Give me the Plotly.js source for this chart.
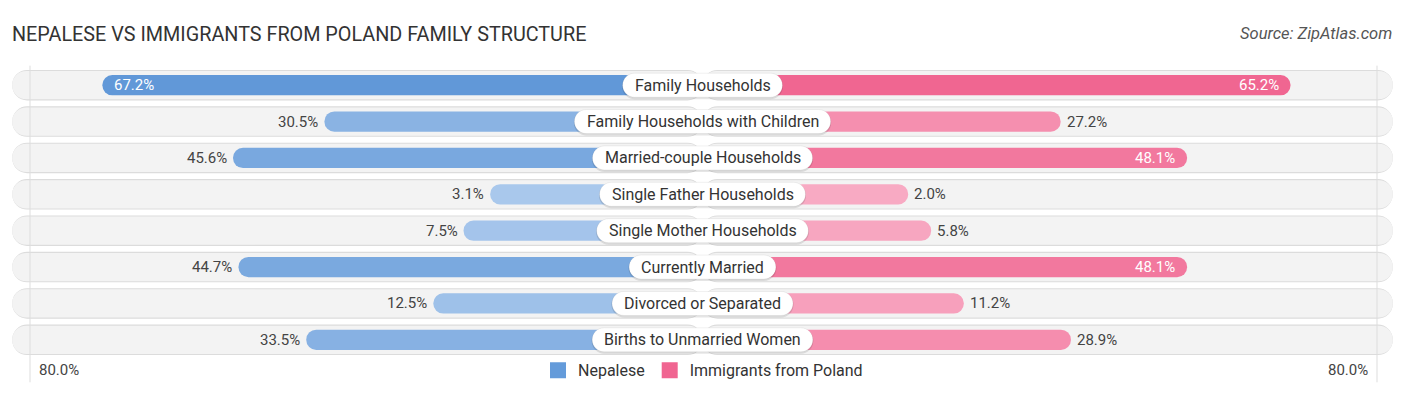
<!DOCTYPE html>
<html>
<head>
<meta charset="utf-8">
<script src="https://cdn.plot.ly/plotly-3.0.1.min.js"></script>
<style>
  html, body { margin: 0; padding: 0; background: #ffffff; }
  #chart { width: 1406px; height: 395px; }
</style>
</head>
<body>
<div id="chart"></div>
<script>
// ---- data ----
const categories = [
  'Family Households',
  'Family Households with Children',
  'Married-couple Households',
  'Single Father Households',
  'Single Mother Households',
  'Currently Married',
  'Divorced or Separated',
  'Births to Unmarried Women'
];
const nepalese = [67.2, 30.5, 45.6, 3.1, 7.5, 44.7, 12.5, 33.5];
const poland   = [65.2, 27.2, 48.1, 2.0, 5.8, 48.1, 11.2, 28.9];
const seriesNames = ['Nepalese', 'Immigrants from Poland'];
const axisLabels = ['80.0%', '80.0%'];
const chartTitle = 'NEPALESE VS IMMIGRANTS FROM POLAND FAMILY STRUCTURE';
const sourceText = 'Source: ZipAtlas.com';

// ---- style / geometry ----
const W = 1406, H = 395;
const PX = 6.05;              // pixels per percentage point
const CENTER = 702.5;         // pixel of the centre line
const GAP = 32;               // half gap (in % units) hidden behind the labels
const BG = 114.1;             // half length of background pills (in % units)
const FONT = 'Roboto, "Open Sans", sans-serif';
const blueDark = [97, 152, 216], blueLight = [172, 202, 237];
const pinkDark = [240, 100, 143], pinkLight = [248, 172, 197];

function mix(a, b, t) {
  const c = a.map((v, i) => Math.round(b[i] + (v - b[i]) * t));
  return 'rgb(' + c.join(',') + ')';
}
const maxV = Math.max(...nepalese, ...poland);
const blueColors = nepalese.map(v => mix(blueDark, blueLight, v / maxV));
const pinkColors = poland.map(v => mix(pinkDark, pinkLight, v / maxV));

const idx = categories.map((_, i) => i);

const traces = [];
function bgBar(sign, width, color, radius) {
  return {
    type: 'bar', orientation: 'h', y: idx, x: idx.map(() => sign * BG), base: 0,
    width: width, marker: { color: color, cornerradius: radius, line: { width: 0 } },
    showlegend: false, hoverinfo: 'skip'
  };
}
traces.push(bgBar(-1, 0.84, '#dcdcdc', 16));
traces.push(bgBar(1, 0.84, '#dcdcdc', 16));
traces.push(bgBar(-1, 0.78, '#f3f3f3', 15));
traces.push(bgBar(1, 0.78, '#f3f3f3', 15));

traces.push({
  type: 'bar', orientation: 'h', y: idx, x: nepalese.map(v => -(GAP + v)), base: 0,
  width: 0.56, marker: { color: blueColors, cornerradius: 11, line: { width: 0 } },
  name: seriesNames[0], showlegend: false, hoverinfo: 'skip'
});
traces.push({
  type: 'bar', orientation: 'h', y: idx, x: poland.map(v => GAP + v), base: 0,
  width: 0.56, marker: { color: pinkColors, cornerradius: 11, line: { width: 0 } },
  name: seriesNames[1], showlegend: false, hoverinfo: 'skip'
});
// legend entries
traces.push({ type: 'scatter', mode: 'markers', x: [null], y: [null], name: seriesNames[0],
  marker: { symbol: 'square', size: 16, color: 'rgb(100,155,218)' } });
traces.push({ type: 'scatter', mode: 'markers', x: [null], y: [null], name: seriesNames[1],
  marker: { symbol: 'square', size: 16, color: 'rgb(240,101,145)' } });

// measure label widths
const LABEL_SIZE = 16;
const cv = document.createElement('canvas').getContext('2d');
cv.font = LABEL_SIZE + 'px Roboto';

const shapes = [];
const annotations = [];
const k = 0.5523;
categories.forEach((c, i) => {
  const tw = cv.measureText(c).width;
  const w = tw + 24, h = 24, r = h / 2;
  const x0 = -w / 2 + r, x1 = w / 2 - r;
  const rr = (ox, oy, rad) => `M${x0 + ox},${-rad + oy} L${x1 + ox},${-rad + oy} ` +
    `C${x1 + ox + k * rad},${-rad + oy} ${x1 + ox + rad},${-k * rad + oy} ${x1 + ox + rad},${oy} ` +
    `C${x1 + ox + rad},${k * rad + oy} ${x1 + ox + k * rad},${rad + oy} ${x1 + ox},${rad + oy} L${x0 + ox},${rad + oy} ` +
    `C${x0 + ox - k * rad},${rad + oy} ${x0 + ox - rad},${k * rad + oy} ${x0 + ox - rad},${oy} ` +
    `C${x0 + ox - rad},${-k * rad + oy} ${x0 + ox - k * rad},${-rad + oy} ${x0 + ox},${-rad + oy} Z`;
  // soft shadow
  shapes.push({ type: 'path', xref: 'x', yref: 'y', xsizemode: 'pixel', ysizemode: 'pixel',
    xanchor: 0, yanchor: i, path: rr(0, -1.5, r + 0.5), fillcolor: 'rgba(0,0,0,0.10)',
    line: { width: 0 }, layer: 'above' });
  shapes.push({ type: 'path', xref: 'x', yref: 'y', xsizemode: 'pixel', ysizemode: 'pixel',
    xanchor: 0, yanchor: i, path: rr(0, 0, r), fillcolor: '#ffffff',
    line: { color: 'rgba(0,0,0,0.06)', width: 1 }, layer: 'above' });
  annotations.push({ x: 0, y: i, xref: 'x', yref: 'y', text: c, showarrow: false,
    font: { family: FONT, size: LABEL_SIZE, color: '#333333' }, xanchor: 'center', yanchor: 'middle' });

  const vl = nepalese[i], vr = poland[i];
  const inL = vl > 47, inR = vr > 47;
  annotations.push({ x: -(GAP + vl), y: i, xref: 'x', yref: 'y', text: vl.toFixed(1) + '%',
    showarrow: false, xanchor: inL ? 'left' : 'right', xshift: inL ? 10 : -4, yanchor: 'middle',
    font: { family: FONT, size: 15, color: inL ? '#ffffff' : '#444444' } });
  annotations.push({ x: GAP + vr, y: i, xref: 'x', yref: 'y', text: vr.toFixed(1) + '%',
    showarrow: false, xanchor: inR ? 'right' : 'left', xshift: inR ? -10 : 4, yanchor: 'middle',
    font: { family: FONT, size: 15, color: inR ? '#ffffff' : '#444444' } });
});

const T = 67.35, plotH = 8 * 36.3, B = H - T - plotH;
const py = p => (H - B - p) / plotH;   // pixel y -> paper y

// faint vertical guide lines
[30, 1377].forEach(px => {
  shapes.push({ type: 'line', xref: 'paper', yref: 'paper', x0: px / W, x1: px / W,
    y0: py(382), y1: py(66), line: { color: '#dddddd', width: 1 }, layer: 'above' });
});

annotations.push({ xref: 'paper', yref: 'paper', x: 37 / W, y: py(370), text: axisLabels[0],
  showarrow: false, xanchor: 'left', yanchor: 'middle', font: { family: FONT, size: 15, color: '#444444' } });
annotations.push({ xref: 'paper', yref: 'paper', x: 1370 / W, y: py(370), text: axisLabels[1],
  showarrow: false, xanchor: 'right', yanchor: 'middle', font: { family: FONT, size: 15, color: '#444444' } });
annotations.push({ xref: 'paper', yref: 'paper', x: 1394 / W, y: py(34), text: '<i>' + sourceText + '</i>',
  showarrow: false, xanchor: 'right', yanchor: 'middle', font: { family: FONT, size: 16.5, color: '#555555' } });

const layout = {
  width: W, height: H,
  margin: { l: 0, r: 0, t: T, b: B },
  paper_bgcolor: '#ffffff', plot_bgcolor: 'rgba(0,0,0,0)',
  barmode: 'overlay',
  title: { text: chartTitle, xref: 'container', yref: 'container', x: 12 / W, xanchor: 'left',
    y: 1 - 34 / H, yanchor: 'middle', font: { family: FONT, size: 19.8, color: '#333333' } },
  xaxis: { range: [-CENTER / PX, (W - CENTER) / PX], visible: false, showgrid: false, zeroline: false, fixedrange: true },
  yaxis: { range: [7.5, -0.5], visible: false, showgrid: false, zeroline: false, fixedrange: true },
  showlegend: true,
  legend: { orientation: 'h', x: 0.5, xanchor: 'center', y: py(370), yanchor: 'middle',
    font: { family: FONT, size: 16, color: '#333333' }, bgcolor: 'rgba(0,0,0,0)', itemclick: false },
  shapes: shapes, annotations: annotations, hovermode: false
};

Plotly.newPlot('chart', traces, layout, { displayModeBar: false, staticPlot: true });
</script>
</body>
</html>
